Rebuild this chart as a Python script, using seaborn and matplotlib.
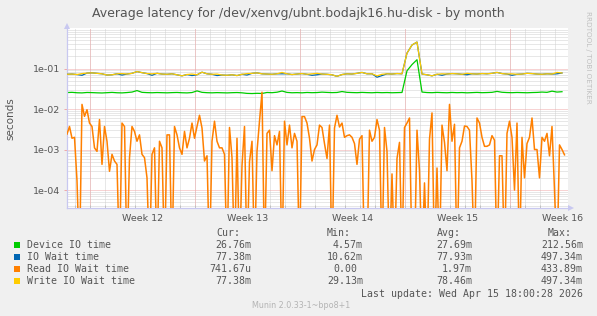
import numpy as np
import pandas as pd
import matplotlib
matplotlib.use("Agg")
import matplotlib.pyplot as plt
import seaborn as sns
from matplotlib.patches import Rectangle, Polygon
from matplotlib.ticker import FixedLocator, FixedFormatter, NullFormatter

plt.rcParams["path.simplify"] = False

# ---------------- data ----------------
# Read IO wait time, one sample every 4 hours (seconds, 0 = no read activity)
read_io = [
    2.4e-3, 3.7e-3, 1.9e-3, 2.0e-3, 1.7e-4, 0, 1.3e-2, 6.6e-3, 9.6e-3, 4.5e-3,
    3.7e-3, 1.1e-3, 9e-4, 5.5e-3, 4.3e-4, 3.7e-3, 1.6e-3, 2.9e-4, 7.6e-4, 5.2e-4,
    4.3e-4, 0, 4.5e-3, 3.7e-3, 0, 6.3e-4, 3.7e-3, 2.8e-3, 1.6e-3, 2.3e-3,
    7.6e-4, 6.3e-4, 2e-4, 0, 7.6e-4, 1.1e-3, 0, 1.6e-3, 1.1e-3, 0,
    2.3e-3, 2.3e-3, 0, 3.7e-3, 2.3e-3, 1.1e-3, 7.6e-4, 2.8e-3, 1.1e-3, 1.9e-3,
    4.5e-3,
    1.9e-3, 3.7e-3, 7e-3, 3.4e-3, 5.2e-4, 7e-4, 0, 1.6e-3, 5e-3, 1.6e-3,
    1.1e-3, 1.1e-3, 7.6e-4, 0, 3.5e-3, 6.3e-4, 0, 1.9e-3, 0, 4e-4,
    3.7e-3, 0, 5e-4, 1.6e-3, 0, 9e-4, 5e-3, 2.6e-2, 0, 2.5e-3,
    3e-3, 3e-4, 2.2e-3, 1.3e-3, 2.8e-3, 0, 5e-3, 1.3e-3, 4e-3, 1.1e-3,
    2.5e-3, 1.6e-3, 0, 6.5e-3, 6.5e-3, 4.5e-3, 1.9e-3, 5.2e-4, 1e-3, 1.3e-3,
    4e-3,
    3.5e-3, 1.4e-3, 6e-4, 4e-3, 0, 3.4e-3, 7e-3, 3.6e-3, 4.5e-3, 2e-3,
    2.2e-3, 2.3e-3, 2e-3, 1.4e-3, 4.3e-4, 1.8e-3, 2.2e-3, 0, 0, 3e-3,
    1.6e-3, 2e-3, 5.5e-3, 3e-3, 0, 3.5e-3, 9e-4, 0, 2.5e-4, 0,
    6e-4, 1.5e-3, 0, 3.5e-3, 4.5e-3, 6e-3, 0, 0, 3e-3, 3e-4,
    0, 1.5e-4, 0, 1.8e-3, 8e-3, 0, 3.5e-4, 0, 4e-3, 1.5e-3,
    3e-4, 1.3e-2, 1.6e-3, 4.2e-3, 0, 1.1e-3, 1.6e-3, 3.8e-3, 3.7e-3, 3e-3,
    1.7e-4, 0, 6e-3, 4.5e-3, 2e-3, 1.2e-3, 1.2e-3, 1.3e-3, 2.2e-3, 1.7e-3,
    0, 7e-4, 7e-4, 0, 2.5e-3, 5e-3, 2e-3, 1e-4, 4.5e-3, 0,
    2e-3, 2e-4, 1.4e-3, 2e-3, 6e-3, 1e-3, 1e-3, 2e-4, 2e-3, 1.6e-3,
    2.5e-3, 7e-4, 3.7e-3, 1e-4, 0, 1.3e-3, 1e-3, 7.4e-4,
]

# Write IO wait time, one sample every 8 hours
write_io = [
    0.072, 0.073, 0.071, 0.075, 0.077, 0.078, 0.076, 0.074, 0.069, 0.070,
    0.074, 0.075, 0.073, 0.076, 0.084, 0.079,
    0.075, 0.074, 0.076, 0.073, 0.072, 0.074, 0.070, 0.066, 0.071, 0.073,
    0.070, 0.081, 0.074, 0.072, 0.073,
    0.069, 0.068, 0.070, 0.067, 0.072, 0.075, 0.076, 0.078, 0.074, 0.073,
    0.072, 0.074, 0.080, 0.074, 0.071,
    0.073, 0.075, 0.072, 0.074, 0.076, 0.073, 0.072, 0.070, 0.064, 0.071,
    0.074, 0.073, 0.076, 0.080, 0.074,
    0.074, 0.066, 0.072, 0.074, 0.073, 0.075,
    0.074, 0.240, 0.380, 0.450, 0.073,
    0.070, 0.066, 0.072, 0.074, 0.073, 0.075, 0.074, 0.072, 0.076, 0.074,
    0.073, 0.075, 0.074, 0.076,
    0.080, 0.075, 0.073, 0.074, 0.072, 0.073, 0.076, 0.075, 0.073, 0.072,
    0.074, 0.073, 0.080, 0.0774,
]

# IO wait time (all requests), one sample every 8 hours
io_wait = [
    0.072, 0.073, 0.071, 0.068, 0.077, 0.078, 0.076, 0.074, 0.069, 0.070,
    0.074, 0.069, 0.073, 0.076, 0.084, 0.079,
    0.075, 0.068, 0.076, 0.073, 0.072, 0.074, 0.070, 0.066, 0.071, 0.067,
    0.070, 0.081, 0.074, 0.072, 0.067,
    0.069, 0.068, 0.070, 0.067, 0.072, 0.069, 0.076, 0.078, 0.074, 0.073,
    0.072, 0.074, 0.074, 0.074, 0.071,
    0.073, 0.075, 0.072, 0.068, 0.070, 0.073, 0.072, 0.070, 0.064, 0.071,
    0.074, 0.073, 0.076, 0.080, 0.074,
    0.074, 0.061, 0.067, 0.074, 0.073, 0.075,
    0.074, 0.240, 0.380, 0.450, 0.073,
    0.070, 0.066, 0.072, 0.068, 0.073, 0.075, 0.074, 0.072, 0.070, 0.074,
    0.073, 0.075, 0.074, 0.076,
    0.080, 0.075, 0.073, 0.068, 0.072, 0.073, 0.076, 0.075, 0.073, 0.072,
    0.074, 0.073, 0.074, 0.0774,
]

# Device IO time, one sample every 8 hours
device_io = [
    0.0255, 0.0258, 0.0252, 0.0250, 0.0256, 0.0254, 0.0251, 0.0249, 0.0253, 0.0257,
    0.0252, 0.0250, 0.0255, 0.0262, 0.0285, 0.0258,
    0.0254, 0.0252, 0.0255, 0.0253, 0.0251, 0.0254, 0.0256, 0.0252, 0.0250, 0.0255,
    0.0280, 0.0258, 0.0253, 0.0251, 0.0254,
    0.0252, 0.0250, 0.0253, 0.0255, 0.0251, 0.0243, 0.0241, 0.0244, 0.0242, 0.0256,
    0.0253, 0.0260, 0.0278, 0.0257, 0.0252,
    0.0254, 0.0251, 0.0256, 0.0253, 0.0255, 0.0261, 0.0257, 0.0254, 0.0256, 0.0270,
    0.0258, 0.0255, 0.0253, 0.0257, 0.0254,
    0.0252, 0.0256, 0.0253, 0.0255, 0.0252, 0.0254,
    0.0256, 0.088, 0.125, 0.165, 0.0262,
    0.0255, 0.0253, 0.0257, 0.0254, 0.0252, 0.0256, 0.0253, 0.0255, 0.0251, 0.0254,
    0.0257, 0.0253, 0.0255, 0.0258,
    0.0272, 0.0259, 0.0255, 0.0253, 0.0256, 0.0254, 0.0252, 0.0255, 0.0257, 0.0262,
    0.0258, 0.0276, 0.0262, 0.02676,
]

week_labels = ["Week 12", "Week 13", "Week 14", "Week 15", "Week 16"]
series_names = ["Device IO time", "IO Wait time", "Read IO Wait time", "Write IO Wait time"]
series_colors = ["#00cc00", "#0066b3", "#ff8000", "#ffcc00"]
cur_vals = ["26.76m", "77.38m", "741.67u", "77.38m"]
min_vals = ["4.57m", "10.62m", "0.00", "29.13m"]
avg_vals = ["27.69m", "77.93m", "1.97m", "78.46m"]
max_vals = ["212.56m", "497.34m", "433.89m", "497.34m"]

W, H = 597, 316
L, R, T, B = 67, 568, 28, 208
x_max = (R - L) / 15.0
y_min, y_max = 3.6e-5, 1.0

# time axis in days from the left edge of the graph
t_fast = np.arange(len(read_io)) / 6.0
t_slow = np.arange(len(write_io)) / 3.0
# zero readings are drawn at the floor of the log axis (as rrdtool does)
read_floor = np.maximum(np.asarray(read_io, dtype=float), y_min / 20)
df_fast = pd.DataFrame({"t": t_fast, "read": read_floor})
df_slow = pd.DataFrame({"t": t_slow, "write": write_io, "wait": io_wait, "device": device_io})

# ---------------- figure ----------------
BG = "#f0f0f0"
TXT = "#555555"
fig = plt.figure(figsize=(W / 100, H / 100), dpi=100, facecolor=BG)
ax = fig.add_axes([L / W, 1 - B / H, (R - L) / W, (B - T) / H])
ax.set_facecolor("white")

# grid (dotted, like rrdtool)
minor_gray = "#d0d0d0"
major_red = "#f0a8a8"
dots = (0, (1, 1))
for d in np.arange(0.53, x_max, 1.0):
    ax.axvline(d, color=minor_gray, lw=0.72, ls=dots, zorder=0.5)
for d in np.arange(1.53, x_max, 7.0):
    ax.axvline(d, color=major_red, lw=0.72, ls=dots, zorder=0.6)
for e in range(-5, 0):
    for m in range(2, 10):
        v = m * 10.0 ** e
        if y_min < v < y_max:
            ax.axhline(v, color=minor_gray, lw=0.72, ls=dots, zorder=0.5)
for e in range(-4, 0):
    ax.axhline(10.0 ** e, color=major_red, lw=0.72, ls=dots, zorder=0.6)

# series
sns.lineplot(data=df_slow, x="t", y="device", ax=ax, color=series_colors[0], lw=0.9, legend=False, zorder=2)
sns.lineplot(data=df_slow, x="t", y="wait", ax=ax, color=series_colors[1], lw=0.9, legend=False, zorder=3)
sns.lineplot(data=df_fast, x="t", y="read", ax=ax, color=series_colors[2], lw=1.1, legend=False, zorder=4)
sns.lineplot(data=df_slow, x="t", y="write", ax=ax, color=series_colors[3], lw=0.9, legend=False, zorder=5)

ax.set_yscale("log")
ax.set_ylim(y_min, y_max)
ax.set_xlim(0, x_max)
ax.set_xlabel("")
ax.set_ylabel("")

ax.xaxis.set_major_locator(FixedLocator([5.07 + 7 * k for k in range(5)]))
ax.xaxis.set_major_formatter(FixedFormatter(week_labels))
ax.xaxis.set_minor_locator(FixedLocator(list(np.arange(0.53, x_max, 1.0))))
ax.yaxis.set_major_locator(FixedLocator([1e-4, 1e-3, 1e-2, 1e-1]))
ax.yaxis.set_major_formatter(FixedFormatter(["1e-04", "1e-03", "1e-02", "1e-01"]))
ax.yaxis.set_minor_locator(FixedLocator([]))
ax.yaxis.set_minor_formatter(NullFormatter())
ax.tick_params(axis="x", which="major", length=0, pad=4, labelsize=6.8, labelcolor=TXT)
ax.tick_params(axis="x", which="minor", length=2, width=0.7, color="#c0c0c0", direction="in")
ax.tick_params(axis="y", which="major", length=2, width=0.7, color=major_red, pad=3,
               labelsize=6.8, labelcolor=TXT)

for s in ["top", "right"]:
    ax.spines[s].set_visible(False)
axis_col = "#c8c8f0"
for s in ["left", "bottom"]:
    ax.spines[s].set_color(axis_col)
    ax.spines[s].set_linewidth(0.9)


def P(x, y):
    return (x / W, 1 - y / H)


# axis arrows
fig.patches.append(Polygon([P(64, 29), P(70, 29), P(67, 23)], closed=True,
                           transform=fig.transFigure, facecolor=axis_col, edgecolor="none"))
fig.patches.append(Polygon([P(568, 205), P(568, 211), P(574, 208)], closed=True,
                           transform=fig.transFigure, facecolor=axis_col, edgecolor="none"))

# texts
fig.text(*P(298.5, 13), "Average latency for /dev/xenvg/ubnt.bodajk16.hu-disk - by month",
         ha="center", va="center", fontsize=9, color=TXT)
fig.text(*P(10, 119), "seconds", rotation=90, ha="center", va="center", fontsize=7.5, color=TXT)
fig.text(*P(588, 57), "RRDTOOL / TOBI OETIKER", rotation=270, ha="center", va="center",
         fontsize=5.2, color="#c0c0c0")

mono = dict(family="DejaVu Sans Mono", fontsize=7.1, color=TXT, va="center")
fig.text(*P(216, 233), "Cur:", ha="left", **mono)
fig.text(*P(327, 233), "Min:", ha="left", **mono)
fig.text(*P(437, 233), "Avg:", ha="left", **mono)
fig.text(*P(548, 233), "Max:", ha="left", **mono)
rows_y = [244.5, 256.5, 268.5, 281]
for i, yy in enumerate(rows_y):
    fig.patches.append(Rectangle(P(14, yy + 3), 6 / W, 6 / H, transform=fig.transFigure,
                                 facecolor=series_colors[i], edgecolor="none"))
    fig.text(*P(27, yy), series_names[i], ha="left", **mono)
    fig.text(*P(251, yy), cur_vals[i], ha="right", **mono)
    fig.text(*P(363 if min_vals[i][-1].isalpha() else 357, yy), min_vals[i], ha="right", **mono)
    fig.text(*P(472, yy), avg_vals[i], ha="right", **mono)
    fig.text(*P(583, yy), max_vals[i], ha="right", **mono)

fig.text(*P(583, 294), "Last update: Wed Apr 15 18:00:28 2026", ha="right", **mono)
fig.text(*P(301, 305), "Munin 2.0.33-1~bpo8+1", ha="center", va="center", fontsize=5.8,
         color="#b4b4b4")

fig.savefig("out.png", dpi=100, facecolor=BG)
